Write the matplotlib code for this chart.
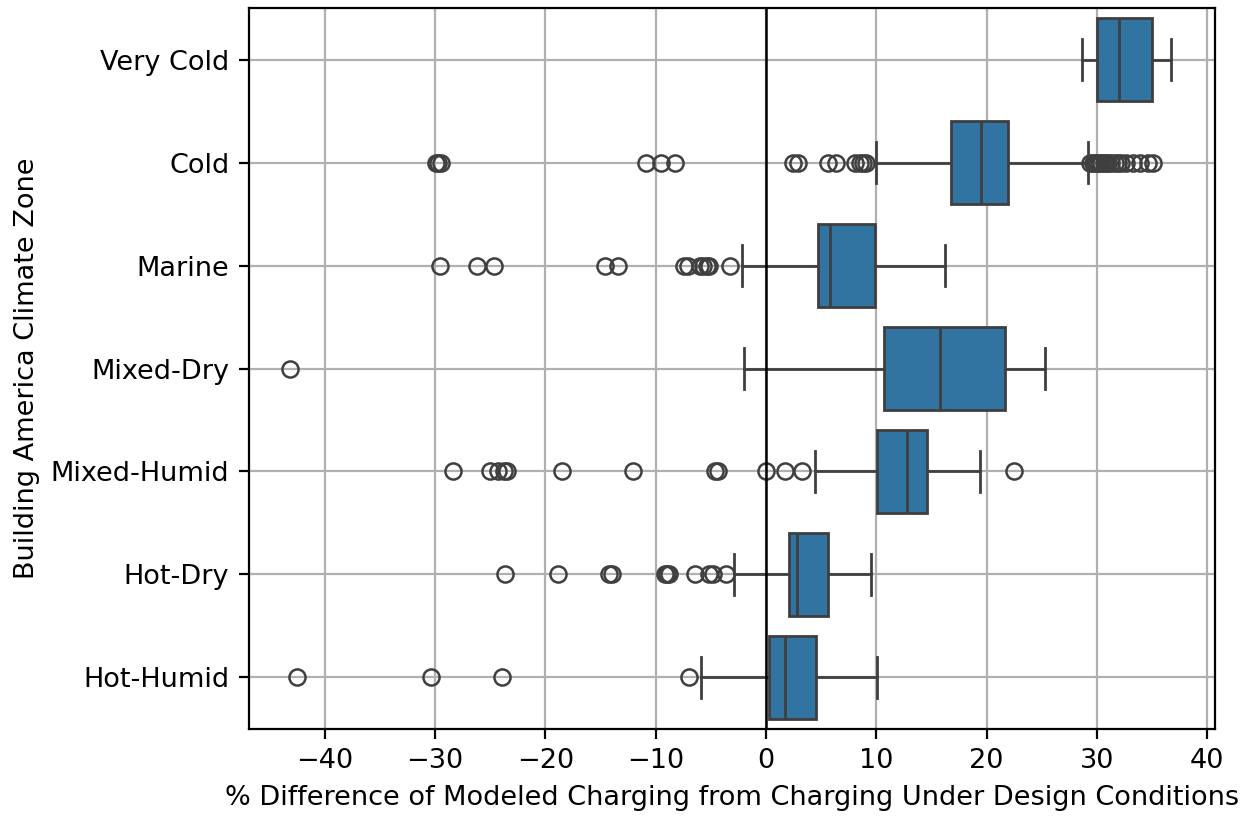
import numpy as np
import matplotlib
matplotlib.use("Agg")
import matplotlib.pyplot as plt

zones = ["Very Cold", "Cold", "Marine", "Mixed-Dry", "Mixed-Humid", "Hot-Dry", "Hot-Humid"]

# box statistics (% difference)
whisker_lo = [28.6, 10.0, -2.2, -2.0, 4.4, -2.9, -5.9]
q1 = [30.0, 16.8, 4.7, 10.7, 10.1, 2.1, 0.3]
median = [32.0, 19.5, 5.8, 15.8, 12.8, 2.8, 1.7]
q3 = [35.0, 21.9, 9.9, 21.7, 14.6, 5.6, 4.5]
whisker_hi = [36.7, 29.2, 16.2, 25.3, 19.4, 9.5, 10.1]

fliers = [
    [],
    [-29.9, -29.7, -29.5, -10.9, -9.5, -8.3, 2.4, 2.9, 5.6, 6.3, 8.1, 8.5, 8.8, 9.1,
     29.4, 29.6, 29.8, 30.0, 30.2, 30.4, 30.6, 30.8, 31.0, 31.3, 31.6, 31.9, 32.2,
     32.6, 33.3, 33.9, 34.6, 35.1],
    [-29.6, -26.2, -24.7, -14.6, -13.4, -7.4, -7.1, -6.0, -5.7, -5.4, -5.2, -3.3],
    [-43.2],
    [-28.4, -25.0, -24.3, -23.8, -23.5, -18.5, -12.1, -4.6, -4.4, 0.0, 1.7, 3.3, 22.5],
    [-23.7, -18.9, -14.2, -14.0, -9.2, -9.0, -8.8, -6.4, -5.2, -4.8, -3.6],
    [-42.5, -30.4, -23.9, -7.0],
]

stats = []
for i, z in enumerate(zones):
    stats.append({
        "label": z,
        "whislo": whisker_lo[i],
        "q1": q1[i],
        "med": median[i],
        "q3": q3[i],
        "whishi": whisker_hi[i],
        "fliers": np.array(fliers[i]),
    })

plt.rcParams["font.size"] = 9.75

line_col = "#3f3f3f"
fig = plt.figure(figsize=(6.25, 4.09), dpi=200)
ax = fig.add_axes([0.199, 0.109, 0.773, 0.881])

ax.bxp(
    stats,
    positions=np.arange(len(zones)),
    widths=0.8,
    orientation="horizontal",
    patch_artist=True,
    showfliers=True,
    capwidths=0.4,
    boxprops=dict(facecolor="#3274a1", edgecolor=line_col, linewidth=1.0),
    medianprops=dict(color=line_col, linewidth=1.0),
    whiskerprops=dict(color=line_col, linewidth=1.0),
    capprops=dict(color=line_col, linewidth=1.0),
    flierprops=dict(marker="o", markerfacecolor="none", markeredgecolor=line_col,
                    markersize=5.8, markeredgewidth=0.9),
)

ax.axvline(0, color="black", linewidth=0.9)
ax.set_axisbelow(True)
ax.grid(True)
ax.set_yticks(np.arange(len(zones)))
ax.set_yticklabels(zones)
ax.set_ylim(len(zones) - 0.5, -0.5)
ax.set_xlim(-46.9, 40.7)
ax.set_xticks(np.arange(-40, 41, 10))
ax.set_xlabel("% Difference of Modeled Charging from Charging Under Design Conditions")
ax.set_ylabel("Building America Climate Zone")

fig.savefig("out.png", dpi=200)
